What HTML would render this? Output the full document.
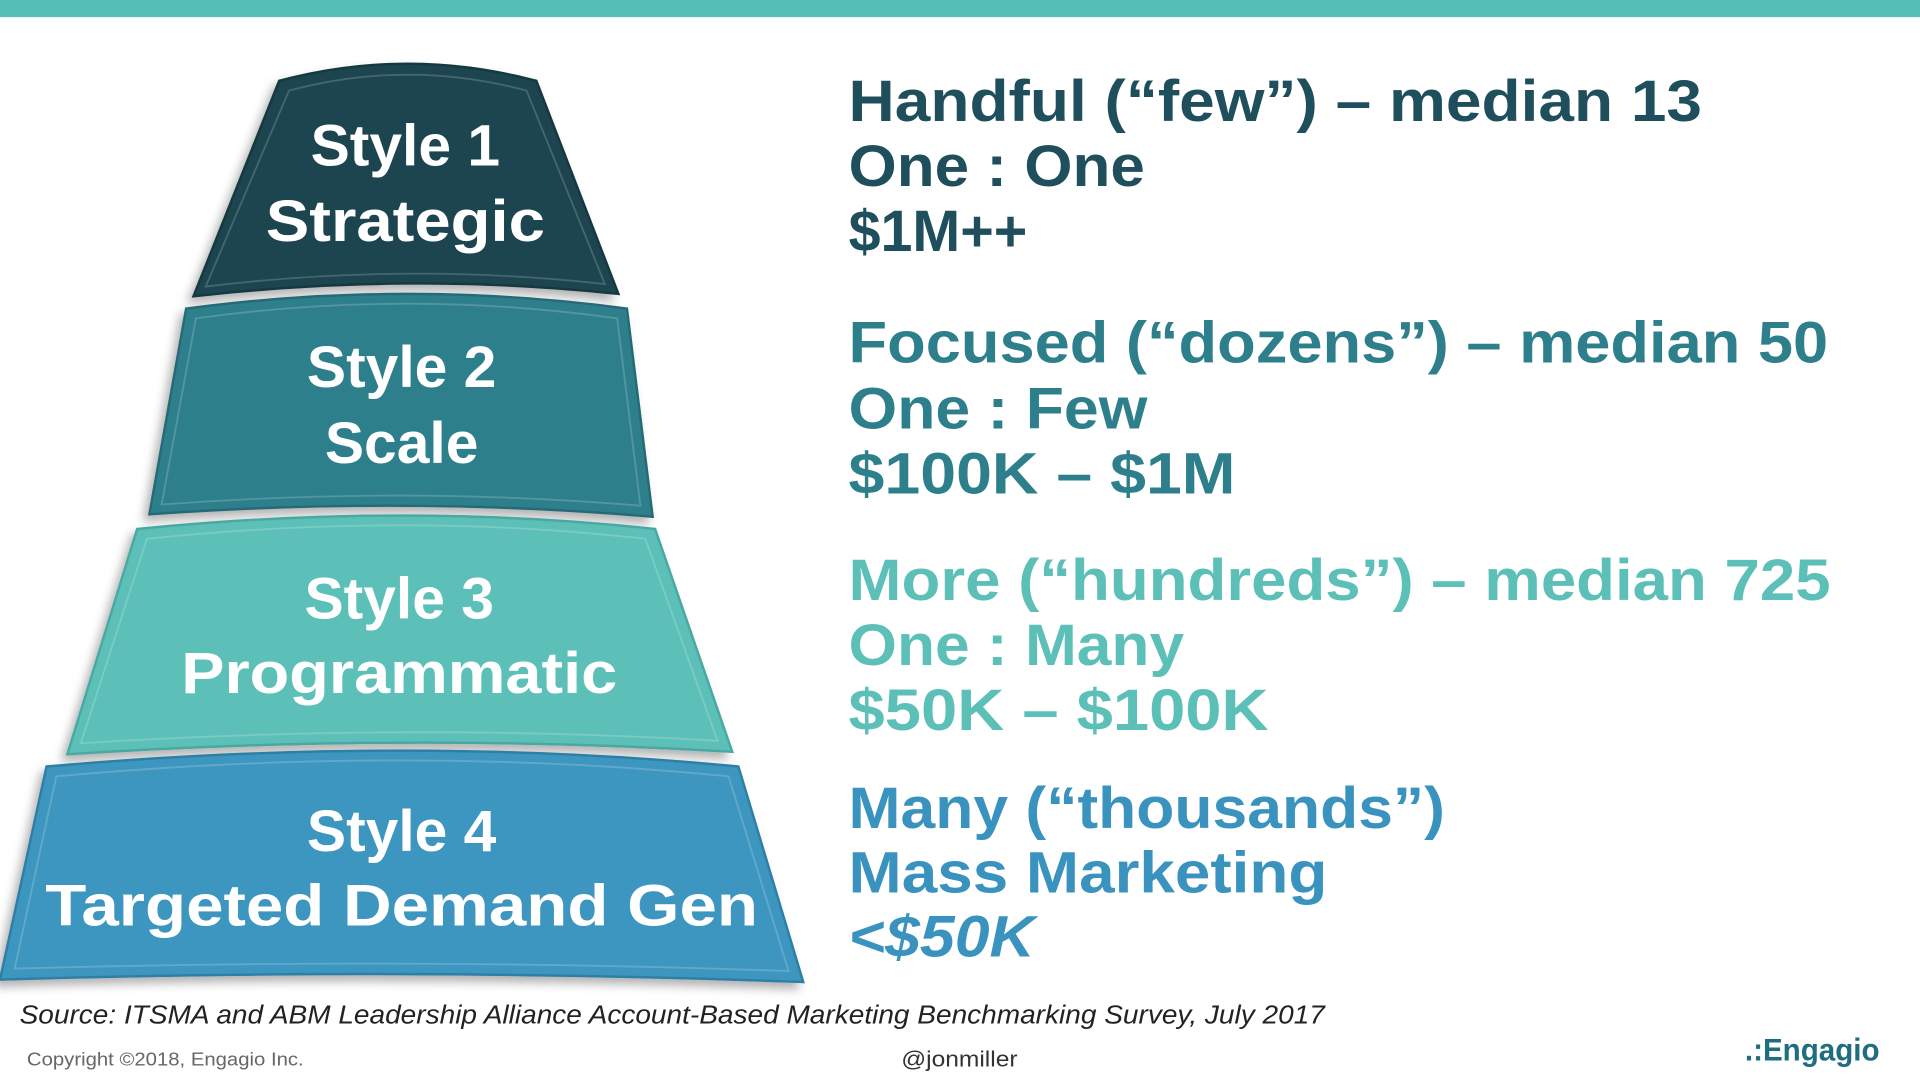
<!DOCTYPE html>
<html><head><meta charset="utf-8"><style>
html,body{margin:0;padding:0;background:#fff;width:1920px;height:1080px;overflow:hidden}
svg{display:block}
text{font-family:"Liberation Sans",sans-serif}
</style></head><body>
<svg width="1920" height="1080" viewBox="0 0 1568 882" xmlns="http://www.w3.org/2000/svg">
<defs>
<filter id="sh" x="-10%" y="-10%" width="120%" height="130%"><feDropShadow dx="-4" dy="5" stdDeviation="4" flood-color="#000" flood-opacity="0.3"/></filter>
</defs>
<rect x="0" y="0" width="1568" height="14" fill="#55bfb6"/>
<!-- pyramid -->
<g filter="url(#sh)">
<path d="M228 66 Q333 38 438 66 L505 240 Q333 222 158 242 Z" fill="#1e4550" stroke="#163840" stroke-width="2"/>
<path d="M152 252 Q333 228 512 252 L533 422 Q333 405 122 420 Z" fill="#2e7f8c" stroke="#256b76" stroke-width="2"/>
<path d="M112 432 Q333 410 535 432 L598 614 Q333 598 55 616 Z" fill="#5cc0b8" stroke="#4aa9a2" stroke-width="2"/>
<path d="M38 626 Q333 600 603 626 L656 802 Q333 790 0 800 Z" fill="#3d96bf" stroke="#2f7fa6" stroke-width="2"/>
</g>
<g fill="none" stroke="rgba(255,255,255,0.18)" stroke-width="1.5">
<path d="M236 74 Q333 48 430 74 L494 232 Q333 214 168 234 Z"/>
<path d="M160 260 Q333 236 504 260 L523 413 Q333 397 132 412 Z"/>
<path d="M120 440 Q333 418 527 440 L586 605 Q333 590 66 607 Z"/>
<path d="M46 634 Q333 608 595 634 L644 793 Q333 782 12 791 Z"/>
</g>
<g fill="#fff" font-weight="bold" font-size="48" text-anchor="middle">
<text x="331" y="135">Style 1</text>
<text x="331" y="197" textLength="228" lengthAdjust="spacingAndGlyphs">Strategic</text>
<text x="328" y="316">Style 2</text>
<text x="328" y="378">Scale</text>
<text x="326" y="505">Style 3</text>
<text x="326" y="566" textLength="356" lengthAdjust="spacingAndGlyphs">Programmatic</text>
<text x="328" y="695">Style 4</text>
<text x="328" y="756" textLength="582" lengthAdjust="spacingAndGlyphs">Targeted Demand  Gen</text>
</g>
<!-- right text -->
<g font-weight="bold" font-size="48">
<g fill="#1f4f5c">
<text x="693" y="99" textLength="697" lengthAdjust="spacingAndGlyphs">Handful (“few”) – median 13</text>
<text x="693" y="152" textLength="242" lengthAdjust="spacingAndGlyphs">One : One</text>
<text x="693" y="205" textLength="146" lengthAdjust="spacingAndGlyphs">$1M++</text>
</g>
<g fill="#2e7f8c">
<text x="693" y="296" textLength="800" lengthAdjust="spacingAndGlyphs">Focused (“dozens”) – median 50</text>
<text x="693" y="350" textLength="244" lengthAdjust="spacingAndGlyphs">One : Few</text>
<text x="693" y="403" textLength="316" lengthAdjust="spacingAndGlyphs">$100K – $1M</text>
</g>
<g fill="#5cc0b8">
<text x="693" y="490" textLength="802" lengthAdjust="spacingAndGlyphs">More (“hundreds”) – median 725</text>
<text x="693" y="543" textLength="274" lengthAdjust="spacingAndGlyphs">One : Many</text>
<text x="693" y="596" textLength="343" lengthAdjust="spacingAndGlyphs">$50K – $100K</text>
</g>
<g fill="#3a93be">
<text x="693" y="676" textLength="487" lengthAdjust="spacingAndGlyphs">Many (“thousands”)</text>
<text x="693" y="729" textLength="391" lengthAdjust="spacingAndGlyphs">Mass Marketing</text>
<text x="693" y="781" textLength="152" lengthAdjust="spacingAndGlyphs" font-style="italic">&lt;$50K</text>
</g>
</g>
<text x="16" y="836" font-size="21" font-style="italic" fill="#222" textLength="1066" lengthAdjust="spacingAndGlyphs">Source: ITSMA and ABM Leadership Alliance Account-Based Marketing Benchmarking Survey, July 2017</text>
<text x="22" y="870" font-size="15" fill="#666" textLength="226" lengthAdjust="spacingAndGlyphs">Copyright ©2018, Engagio Inc.</text>
<text x="736" y="871" font-size="18" fill="#333" textLength="95" lengthAdjust="spacingAndGlyphs">@jonmiller</text>
<text x="1425" y="866" font-size="26" font-weight="bold" fill="#1f6e80" textLength="110" lengthAdjust="spacingAndGlyphs">.:Engagio</text>
</svg>
</body></html>
